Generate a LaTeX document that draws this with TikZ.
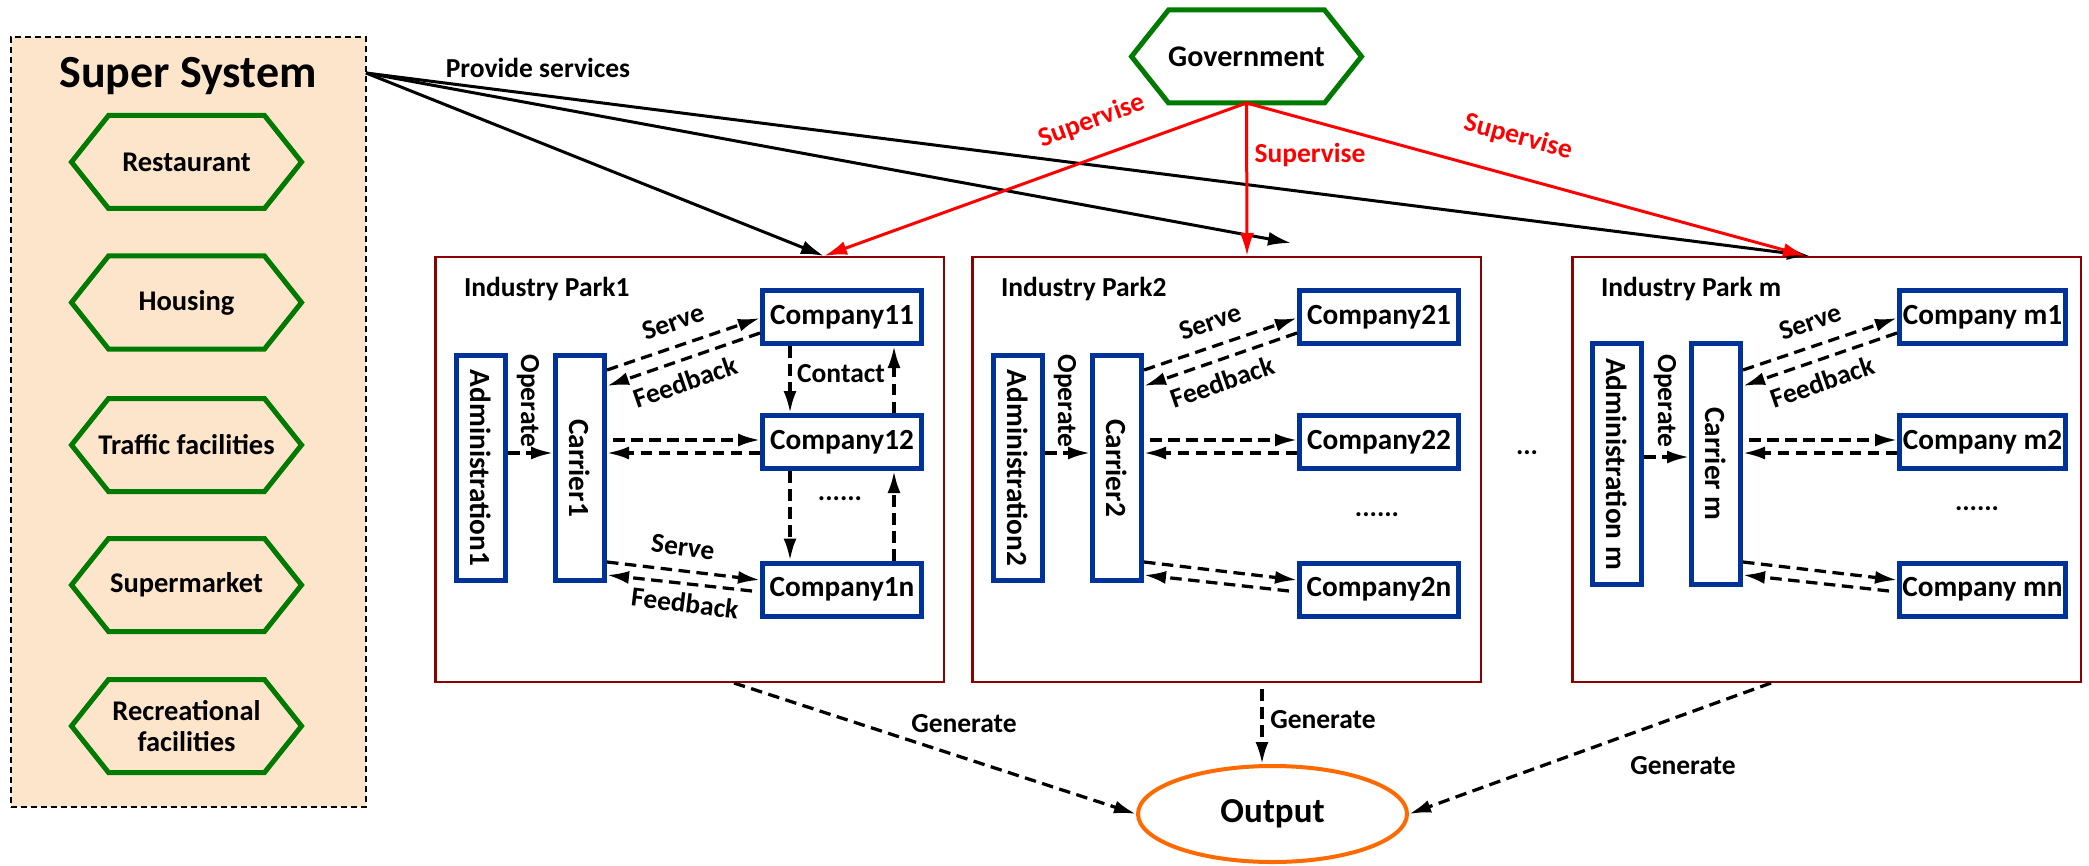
\documentclass[tikz,border=0pt]{standalone}
\usepackage{fontspec}
\setmainfont{Carlito}
\usepackage{graphicx}
\usetikzlibrary{arrows.meta,calc,shapes.geometric}

\definecolor{peach}{HTML}{FDE5CC}
\definecolor{hexgreen}{HTML}{007A00}
\definecolor{boxblue}{HTML}{003399}
\definecolor{parkred}{HTML}{8B0000}
\definecolor{outorange}{HTML}{FF6A00}

\tikzset{
  x=0.2pt, y=-0.2pt,
  lbl/.style={font=\bfseries\fontsize{5.5}{6.2}\selectfont, inner sep=0pt},
  sysbox/.style={draw, dash pattern=on 1.2pt off 0.8pt, line width=0.35pt, fill=peach,
    minimum width=71pt, minimum height=154pt, inner sep=0pt},
  hexbox/.style={font=\bfseries\fontsize{5.7}{6.3}\selectfont, inner sep=0pt, align=center,
    minimum width=46pt, minimum height=18.6pt, outer sep=0pt},
  hexline/.style={draw=hexgreen, line width=1pt, line join=miter},
  parkbox/.style={draw=parkred, line width=0.5pt, minimum width=101.7pt, minimum height=84.9pt, inner sep=0pt},
  blubox/.style={draw=boxblue, line width=1pt, inner sep=0pt, font=\bfseries\fontsize{5.85}{6.3}\selectfont},
  comp/.style={blubox, minimum height=10.6pt},
  bar/.style={blubox, minimum width=9.8pt},
  darr/.style={dash pattern=on 2.3pt off 1.3pt, line width=0.65pt, -{Latex[length=4.4pt,width=2.6pt]}},
  blkarr/.style={line width=0.6pt, -{Latex[length=4.6pt,width=2.8pt]}},
  redarr/.style={blkarr, red},
  redlbl/.style={lbl, text=red},
  outnode/.style={draw=outorange, line width=0.8pt, ellipse, minimum width=53.8pt, minimum height=19.2pt,
    inner sep=0pt, font=\bfseries\fontsize{7}{8}\selectfont},
}

\newcommand\hexnode[4]{%
  \node[hexbox] (#1) at (#2,#3) {#4};
  \draw[hexline] (#1.west) -- ($(#1.north west)+(37,0)$) -- ($(#1.north east)+(-37,0)$) -- (#1.east)
    -- ($(#1.south east)+(-37,0)$) -- ($(#1.south west)+(37,0)$) -- cycle;}

% per-park parameters
\def\pkBarH{45pt}\def\pkBarY{468}\def\pkAX{47}\def\pkCarX{146}
\def\pkCX{408}\def\pkCW{31.8pt}\def\pkOpY{453}\def\pkDotY{499}

\newcommand\parkblock[6]{%
  \node[parkbox] (#1box) at (#2+255.5,469.5) {};
  \node[lbl, anchor=base west] (#1title) at (#2+29,296) {#3};
  \node[bar, minimum height=\pkBarH] (#1adm) at (#2+\pkAX,\pkBarY) {\rotatebox{-90}{#4}};
  \node[bar, minimum height=\pkBarH] (#1car) at (#2+\pkCarX,\pkBarY) {\rotatebox{-90}{#5}};
  \node[comp, minimum width=\pkCW] (#1c1) at (#2+\pkCX,317) {#61};
  \node[comp, minimum width=\pkCW] (#1c2) at (#2+\pkCX,442) {#62};
  \node[comp, minimum width=\pkCW] (#1cn) at (#2+\pkCX,589.5) {#6n};
  \node[lbl] (#1dots) at (#2+406,\pkDotY) {......};
  \node[lbl, rotate=-90] (#1op) at (#2+94,401) {Operate};
  \node[lbl, rotate=19] (#1serve) at (#2+239,322) {Serve};
  \node[lbl, rotate=19] (#1fb) at (#2+251,382) {Feedback};
  \draw[darr] (#1adm.east |- 0,\pkOpY) -- (#1car.west |- 0,\pkOpY);
  \draw[darr] (#1car.east |- 0,370) -- (#1c1.west |- 0,318);
  \draw[darr] (#1c1.west |- 0,333) -- (#1car.east |- 0,386);
  \draw[darr] ($(#1car.east |- 0,440)+(6,0)$) -- (#1c2.west |- 0,440);
  \draw[darr] (#1c2.west |- 0,453) -- (#1car.east |- 0,453);
  \draw[darr] (#1car.east |- 0,562) -- (#1cn.west |- 0,580);
  \draw[darr] ($(#1cn.west |- 0,591)+(-8,0)$) -- (#1car.east |- 0,575);
}

\begin{document}
\begin{tikzpicture}
\useasboundingbox (0,0) rectangle (2089,865);

% Super system
\node[sysbox] (ss) at (188.5,422) {};
\node[lbl, font=\bfseries\fontsize{9.2}{10}\selectfont, anchor=base] (sstitle) at (188,88) {Super System};
\hexnode{rest}{186.5}{162}{Restaurant}
\hexnode{hous}{186.5}{302.5}{Housing}
\hexnode{traf}{186.5}{445}{Traffic facilities}
\hexnode{smkt}{186.5}{585}{Supermarket}
\hexnode{recr}{186.5}{726}{Recreational\\facilities}

% Government
\hexnode{gov}{1246.5}{56.5}{\fontsize{6}{7}\selectfont Government}

% Parks
\parkblock{pa}{434}{Industry Park1}{Administration1}{Carrier1}{Company1}
\def\pkDotY{515}
\parkblock{pb}{971}{Industry Park2}{Administration2}{Carrier2}{Company2}
\def\pkBarH{48.2pt}\def\pkBarY{464}\def\pkAX{46}\def\pkCarX{145}
\def\pkCX{411.5}\def\pkCW{33.2pt}\def\pkOpY{457}\def\pkDotY{509}
\parkblock{pm}{1571}{Industry Park m}{Administration m}{Carrier m}{Company m}

% Park1 extras
\draw[darr] (pac1.south -| 790,0) -- (pac2.north -| 790,0);
\draw[darr] (pac2.north -| 894,0) -- (pac1.south -| 894,0);
\draw[darr] (pac2.south -| 790,0) -- (pacn.north -| 790,0);
\draw[darr] (pacn.north -| 894,0) -- (pac2.south -| 894,0);
\node[lbl] (contact) at (841,374) {Contact};
\node[lbl, rotate=-7] (serve2) at (683,547) {Serve};
\node[lbl, rotate=-7] (fb2) at (685,603) {Feedback};

\node[lbl] (ellip) at (1527,453) {...};

% Provide services
\coordinate (src) at (366,73);
\coordinate (t2) at (1291,243);
\draw[blkarr] (src) -- (pabox.north -| 824,0);
\draw[blkarr] (src) -- (t2);
\draw[blkarr] (src) -- (pmbox.north -| 1810,0);
\node[lbl] (prov) at (538,68) {Provide services};

% Supervise
\draw[redarr] (gov.south) -- (pabox.north -| 824,0);
\draw[redarr] (gov.south) -- (pbbox.north -| 1247,0);
\draw[redarr] (gov.south) -- (pmbox.north -| 1806,0);
\node[redlbl, rotate=20] (sup1) at (1092,121) {Supervise};
\node[redlbl] (sup2) at (1310,155) {Supervise};
\node[redlbl, rotate=-15] (sup3) at (1518,137) {Supervise};

% Output
\node[outnode] (out) at (1272.5,814) {Output};
\draw[darr] (pabox.south -| 734,0) -- (out.west);
\draw[darr] ($(pbbox.south -| 1262,0)+(0,6)$) -- (out.north -| 1262,0);
\draw[darr] (pmbox.south -| 1771,0) -- (out.east);
\node[lbl] (gen1) at (964,724) {Generate};
\node[lbl] (gen2) at (1323,720) {Generate};
\node[lbl] (gen3) at (1683,766) {Generate};
\end{tikzpicture}
\end{document}
